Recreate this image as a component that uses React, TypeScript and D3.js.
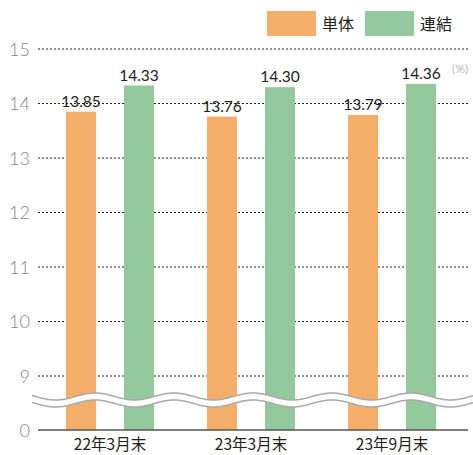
import React from "react";
import * as d3 from "d3";

const categories = ["22年3月末", "23年3月末", "23年9月末"];
const seriesNames = ["単体", "連結"];
const tandoku = [13.85, 13.76, 13.79];
const renketsu = [14.33, 14.3, 14.36];
const yTicks = [9, 10, 11, 12, 13, 14, 15];
const colors = ["#F6AE6B", "#94C89D"];

const W = 473;
const H = 455;
const plotLeft = 38;
const plotRight = 468;
const baselineY = 430;

export default function App() {
  const y = d3.scaleLinear().domain([9, 15]).range([376, 49]);
  const x0 = d3.scaleBand<string>().domain(categories).range([39.5, 462.5]).padding(0);
  const x1 = d3
    .scaleBand<string>()
    .domain(seriesNames)
    .range([26.5, 114.5])
    .paddingInner(0.483)
    .paddingOuter(0);
  const series = [tandoku, renketsu];

  // wave break
  const period = 79;
  const amp = 3.5;
  const crest = 95;
  const waveXs = d3.range(32, 474, 1);
  const upperY = (xv: number) => 396.5 - amp * Math.cos((2 * Math.PI * (xv - crest)) / period);
  const lowerY = (xv: number) => upperY(xv) + 7;
  const upperPath = d3.line<number>().x((d) => d).y(upperY)(waveXs) as string;
  const lowerPath = d3.line<number>().x((d) => d).y(lowerY)(waveXs) as string;
  const bandPts = waveXs.map((xv) => [xv, upperY(xv)] as [number, number]).concat(
    waveXs.slice().reverse().map((xv) => [xv, lowerY(xv)] as [number, number])
  );
  const bandPath = d3.line()(bandPts) + "Z";

  const numFont = "Lato, 'Noto Sans', sans-serif";
  const jpFont = "'Noto Sans CJK JP', sans-serif";

  return (
    <svg width={W} height={H} style={{ position: "absolute", left: 0, top: 0 }}>
      <rect width={W} height={H} fill="#fff" />
      {/* legend */}
      {seriesNames.map((s, i) => (
        <g key={s}>
          <rect x={267 + i * 98} y={11} width={49} height={25} fill={colors[i]} />
          <text x={322 + i * 98} y={30} fontSize={16} fontFamily={jpFont} fill="#222">
            {s}
          </text>
        </g>
      ))}
      {/* gridlines */}
      {yTicks.map((t) => (
        <g key={t}>
          <line
            x1={plotLeft}
            x2={plotRight}
            y1={y(t)}
            y2={y(t)}
            stroke="#222"
            strokeWidth={1}
            strokeDasharray="2,2"
          />
          <text
            x={30}
            y={y(t) + 6.5}
            textAnchor="end"
            fontSize={18}
            fontFamily={numFont}
            fontWeight={300}
            fill="#888"
          >
            {t}
          </text>
        </g>
      ))}
      <text x={30} y={baselineY + 6.5} textAnchor="end" fontSize={18} fontFamily={numFont} fontWeight={300} fill="#888">
        0
      </text>
      <text x={452} y={73} fontSize={12.5} fontFamily={numFont} fontWeight={300} fill="#888">
        (%)
      </text>
      {/* bars */}
      {categories.map((c, ci) => (
        <g key={c} transform={`translate(${x0(c)},0)`}>
          {seriesNames.map((s, si) => {
            const v = series[si][ci];
            const bx = x1(s)!;
            return (
              <g key={s}>
                <rect x={bx} y={y(v)} width={x1.bandwidth()} height={baselineY - y(v)} fill={colors[si]} />
                <text
                  x={bx + x1.bandwidth() / 2}
                  y={y(v) - 5}
                  textAnchor="middle"
                  fontSize={15.5}
                  fontFamily={numFont}
                  fill="#222"
                >
                  {v.toFixed(2)}
                </text>
              </g>
            );
          })}
          <text
            x={x0.bandwidth() / 2}
            y={450}
            textAnchor="middle"
            fontSize={15.5}
            fontFamily={jpFont}
            fill="#222"
          >
            {c}
          </text>
        </g>
      ))}
      {/* wave break */}
      <path d={bandPath} fill="#fff" />
      <path d={upperPath} fill="none" stroke="#aaa" strokeWidth={1.5} />
      <path d={lowerPath} fill="none" stroke="#aaa" strokeWidth={1.5} />
      {/* baseline */}
      <line x1={plotLeft} x2={plotRight} y1={baselineY} y2={baselineY} stroke="#555" strokeWidth={1.5} />
    </svg>
  );
}
